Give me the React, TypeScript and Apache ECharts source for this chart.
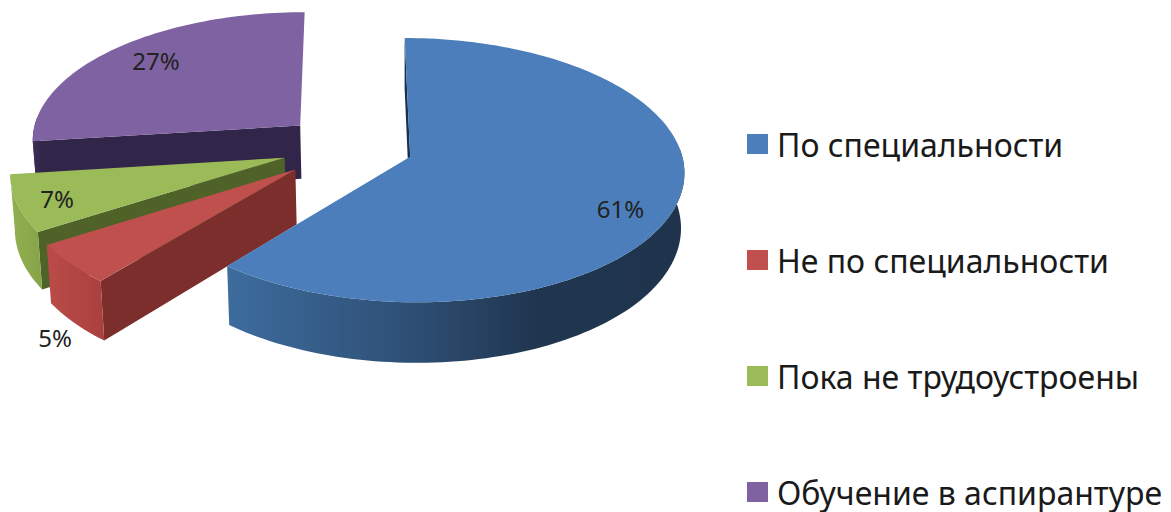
import React, { useEffect, useRef } from "react";
import * as echarts from "echarts";

const categories = ["По специальности", "Не по специальности", "Пока не трудоустроены", "Обучение в аспирантуре"];
const values = [61, 5, 7, 27];
const explosion = [0.235, 0.265, 0.255, 0.25];
const topColors = ["#4b7ebb", "#c0504d", "#9bbb59", "#7f62a1"];
const wallColors = ["#17304f", "#7b2e2c", "#4f6228", "#32254a"];
const rimStops = [
  [[0, "#3d6c9d"], [0.4, "#2e4f75"], [0.68, "#20354f"], [1, "#1f344c"]],
  [[0, "#ba4b48"], [1, "#aa403e"]],
  [[0, "#93b050"], [1, "#86a348"]],
  [[0, "#3d2d58"], [1, "#32254a"]],
];
const labelRadius = [0.8, 1.1, 0.8, 0.7];
const labelNudge = [[-2, 15], [9, 63], [-15, 4], [-13, -10]];
const drawOrder = [3, 2, 1, 0];

const FONT = '"Noto Sans", sans-serif';
const VX = 350, VY = 146.5, SX = 270, SY = 128.7, K = 0.1, DEPTH = 54;
const total = values.reduce((a, b) => a + b, 0);

function project(x: number, y: number) {
  const w = 1 + K * y;
  return { X: VX + (SX * x) / w, Y: VY - (SY * y) / w, w };
}
function lower(p: { X: number; Y: number; w: number }) {
  return { X: p.X + (400 - p.X) * 0.012, Y: p.Y + DEPTH / p.w, w: p.w };
}
const pt = (p: { X: number; Y: number }) => [p.X, p.Y];

function sliceChildren(i: number) {
  const before = values.slice(0, i).reduce((a, b) => a + b, 0);
  const a0 = (before / total) * Math.PI * 2;
  const a1 = ((before + values[i]) / total) * Math.PI * 2;
  const mid = (a0 + a1) / 2;
  const ax = Math.sin(mid) * explosion[i];
  const ay = Math.cos(mid) * explosion[i];
  const apex = project(ax, ay);
  const rim: { X: number; Y: number; w: number }[] = [];
  const frontRim: { X: number; Y: number; w: number }[] = [];
  const n = Math.max(8, Math.round((a1 - a0) * 40));
  for (let k = 0; k <= n; k++) {
    const t = a0 + ((a1 - a0) * k) / n;
    const p = project(ax + Math.sin(t), ay + Math.cos(t));
    rim.push(p);
    if (Math.cos(t) < 0.08) frontRim.push(p);
  }
  const first = rim[0];
  const lr = labelRadius[i];
  const lp = project(ax + Math.sin(mid) * lr, ay + Math.cos(mid) * lr);
  return [
    {
      type: "polygon",
      shape: { points: [pt(apex), pt(first), pt(lower(first)), pt(lower(apex))] },
      style: { fill: wallColors[i] },
    },
    {
      type: "polygon",
      shape: { points: [...frontRim.map(pt), ...frontRim.slice().reverse().map((p) => pt(lower(p)))] },
      style: {
        fill: {
          type: "linear", x: 0, y: 0, x2: 1, y2: 0,
          colorStops: rimStops[i].map(([offset, color]) => ({ offset, color })),
        },
      },
    },
    {
      type: "polygon",
      shape: { points: [pt(apex), ...rim.map(pt)] },
      style: { fill: topColors[i] },
    },
    {
      type: "text",
      z2: 10,
      style: {
        text: values[i] + "%",
        x: lp.X + labelNudge[i][0],
        y: lp.Y + labelNudge[i][1],
        fontSize: 24,
        fontFamily: FONT,
        fill: "#222222",
        align: "center",
        verticalAlign: "middle",
      },
    },
  ];
}

export default function App() {
  const ref = useRef<HTMLDivElement>(null);
  useEffect(() => {
    document.body.style.margin = "0";
    const chart = echarts.init(ref.current!, null, { renderer: "svg" });
    chart.setOption({
      animation: false,
      backgroundColor: "#ffffff",
      legend: {
        orient: "vertical",
        left: 742,
        top: 123,
        height: 420,
        icon: "rect",
        itemWidth: 21,
        itemHeight: 20,
        itemGap: 84,
        selectedMode: false,
        textStyle: { fontSize: 32, fontFamily: FONT, color: "#1a1a1a", padding: [0, 0, 0, 4] },
        data: categories.map((name, i) => ({ name, itemStyle: { color: topColors[i] } })),
      },
      series: drawOrder.map((i, order) => ({
        type: "custom",
        name: categories[i],
        coordinateSystem: "none",
        z: 2 + order,
        silent: true,
        itemStyle: { color: topColors[i] },
        data: [[values[i]]],
        renderItem: () => ({ type: "group", children: sliceChildren(i) }),
      })),
    });
    return () => chart.dispose();
  }, []);
  return <div ref={ref} style={{ width: 1171, height: 512 }} />;
}
